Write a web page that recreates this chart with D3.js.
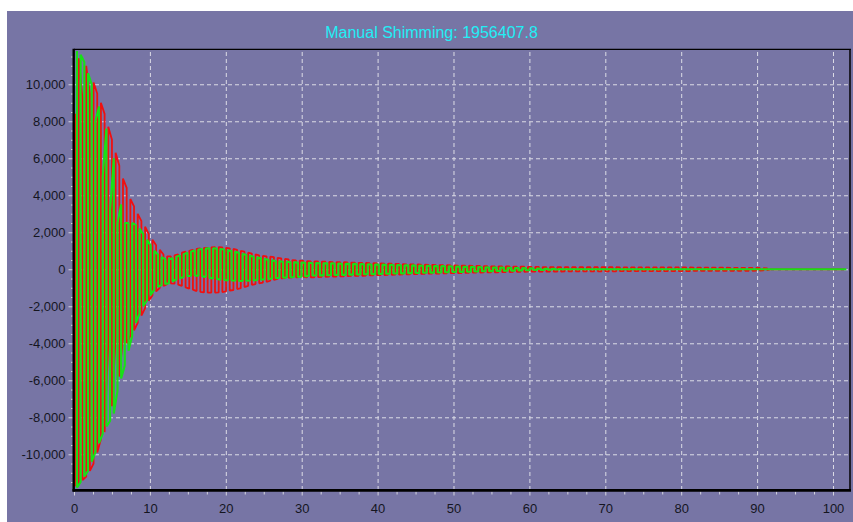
<!DOCTYPE html>
<html><head><meta charset="utf-8">
<script src="https://cdn.jsdelivr.net/npm/d3@7"></script>
<style>
html,body{margin:0;padding:0;background:#fff;}
svg{display:block;}
</style></head><body>
<svg id="c" width="853" height="522"></svg>
<script>
// ---------------- data ----------------
const chartTitle = "Manual Shimming: 1956407.8";
const xTickValues = [0,10,20,30,40,50,60,70,80,90,100];
const xMinorStep = 2.5;
const yTickValues = [-10000,-8000,-6000,-4000,-2000,0,2000,4000,6000,8000,10000];
const yMinorStep = 500;
const xDomain = [0, 102.24];
const yDomain = [-11930, 11890];
const sampleStep = 0.485;          // time between successive oscillation strokes
const realStart = 0.15, imagStart = 0.39;
const valueUnit = 100;             // arrays below are in hundreds

// stroke extremes, first 63 strokes (t = 0 .. 30)
const realTop = [84,114,92,110,95,101,95,90,84,77, 70,63,56,49,44,38,34,30,26,23,
  19,16,13,10.5,8,7,7,7.5,8,9, 9.5,10,10.5,11,11.3,11.5,11.6,11.8,12,12,
  11.8,11.6,11.3,11,10.5,10,9.5,9,8.5,8, 7.5,7.2,7,6.8,6.6,6.2,5.9,5.6,5.3,5, 4.8,4.6,4.5];
const realBottom = [-117,-116,-114,-112,-109,-105,-99,-92,-88,-40, -74,-37,-58,-37,-40,-36,-33,-29,-25,-21,
  -17,-14,-12,-10,-9,-8,-7.6,-7.8,-8.3,-9, -9.8,-10.5,-11,-11.8,-12.2,-12.5,-12.6,-12.6,-12.6,-12.5,
  -12.3,-12,-11.6,-11.2,-10.7,-10.2,-9.6,-9,-8.4,-8, -7.6,-7.2,-6.8,-6.2,-5.8,-5.2,-4.9,-4.8,-4.6,-4.4, -4.3,-4.2,-4.1];
const imagTop = [118,116,112,106,100,80,88,50,76,32, 60,25,35,25,25,25,24,22,19,16,
  13,10,8,6.5,5.5,5.5,6,6.8,7.5,8.2, 9,9.6,10.2,10.7,11,11.2,11.3,11.3,11.2,11,
  10.7,10.3,9.9,9.4,8.9,8.3,7.8,7.3,6.8,6.3, 5.9,5.5,5.1,4.8,4.5,4.3,4.1,4,3.9,3.8, 3.7,3.6,3.5];
const imagBottom = [-118,-115,-112,-109,-104,-99,-94,-89,-85,-82, -78,-66,-59,-52,-44,-36,-29,-24,-20,-17,
  -14,-11,-9.5,-8.5,-8,-7.5,-6.5,-5.5,-4.8,-4.2, -3.8,-3.5,-3.4,-3.5,-3.8,-4.2,-4.6,-5,-5.3,-5.6,
  -5.8,-6,-6.1,-6.2,-6.3,-6.3,-6.2,-6.1,-6,-5.8, -5.6,-5.4,-5.2,-5,-4.8,-4.6,-4.5,-4.4,-4.3,-4.2, -4.1,-4,-3.9];

// symmetric half-amplitudes of the remaining strokes (t = 30 .. 102)
const realTail = [4.4,4.3,4.3,4.2,4.1,4.1,4.0,3.9,3.9,3.8, 3.8,3.7,3.6,3.6,3.5,3.5,3.4,3.3,3.3,3.2,
  3.2,3.1,3.0,3.0,2.9,2.9,2.8,2.7,2.7,2.6, 2.6,2.5,2.5,2.4,2.4,2.3,2.3,2.2,2.2,2.1,
  2.1,2.0,2.0,1.9,1.9,1.8,1.8,1.8,1.7,1.7, 1.6,1.6,1.6,1.5,1.5,1.5,1.4,1.4,1.4,1.4,
  1.3,1.3,1.3,1.3,1.2,1.2,1.2,1.2,1.2,1.2, 1.1,1.1,1.1,1.1,1.1,1.1,1.1,1.1,1.1,1.1,
  1.1,1.1,1.1,1.1,1.1,1.0,1.0,1.0,1.0,1.0, 1.0,1.0,1.0,1.0,1.0,1.0,1.0,1.0,1.0,1.0,
  1.0,1.0,1.0,1.0,1.0,0.9,0.9,0.9,0.9,0.9, 0.9,0.9,0.9,0.9,0.9,0.8,0.8,0.8,0.8,0.8,
  0.8,0.8,0.7,0.7,0.6,0.5,0,0,0,0, 0,0,0,0,0,0,0,0,0,0, 0,0,0,0,0,0,0];
const imagTail = [3.5,3.4,3.4,3.3,3.3,3.2,3.2,3.1,3.1,3.0, 3.0,2.9,2.9,2.8,2.8,2.7,2.7,2.6,2.6,2.5,
  2.5,2.4,2.4,2.3,2.3,2.2,2.2,2.1,2.1,2.0, 2.0,1.9,1.9,1.8,1.8,1.7,1.7,1.6,1.6,1.5,
  1.5,1.4,1.4,1.3,1.3,1.2,1.2,1.1,1.1,1.0, 1.0,0.9,0.9,0.8,0.8,0.7,0.7,0.6,0.6,0.5,
  0.5,0.4,0.4,0.3,0.3,0.2,0.2,0.1,0.1,0, 0,0,0,0,0,0,0,0,0,0,
  0,0,0,0,0,0,0,0,0,0, 0,0,0,0,0,0,0,0,0,0, 0,0,0,0,0,0,0,0,0,0,
  0,0,0,0,0,0,0,0,0,0, 0,0,0,0,0,0,0,0,0,0, 0,0,0,0,0,0,0,0,0,0,
  0,0,0,0,0,0,0];

// ---------------- layout ----------------
const W = 853, H = 522;
const plot = {left: 74, right: 850, top: 49.3, bottom: 490};
const svg = d3.select("#c");

svg.append("rect").attr("x",7).attr("y",11).attr("width",W-7).attr("height",H-11).attr("fill","#7775a5");

const x = d3.scaleLinear().domain(xDomain).range([plot.left, plot.right]);
const y = d3.scaleLinear().domain(yDomain).range([plot.bottom, plot.top]);

const fmt = d3.formatLocale({decimal:".", thousands:",", grouping:[3], currency:["",""], minus:"-"}).format(",");

// grid
const gridColor = "#dcdce6";
const gx = svg.append("g").attr("transform",`translate(0,${plot.bottom})`)
  .call(d3.axisBottom(x).tickValues(xTickValues.filter(v=>v>0)).tickSize(-(plot.bottom-plot.top)).tickFormat(""));
gx.select(".domain").remove();
gx.selectAll("line").attr("stroke",gridColor).attr("stroke-width",1).attr("stroke-dasharray","4,3");
const gy = svg.append("g").attr("transform",`translate(${plot.left},0)`)
  .call(d3.axisLeft(y).tickValues(yTickValues).tickSize(-(plot.right-plot.left)).tickFormat(""));
gy.select(".domain").remove();
gy.selectAll("line").attr("stroke",gridColor).attr("stroke-width",1).attr("stroke-dasharray","4,3");

// series
function buildSeries(start, top, bottom, tail){
  const out = [];
  top.forEach((v,i)=>out.push({t:start+i*sampleStep, hi:v*valueUnit, lo:bottom[i]*valueUnit}));
  tail.forEach((a,j)=>{const i=top.length+j; out.push({t:start+i*sampleStep, hi:a*valueUnit, lo:-a*valueUnit});});
  return out;
}
function meander(arr){
  const pts=[];
  arr.forEach((d,i)=>{
    if(i%2===0){pts.push([d.t,d.hi]);pts.push([d.t,d.lo]);}
    else {pts.push([d.t,d.lo]);pts.push([d.t,d.hi]);}
  });
  return pts;
}
const realSeries = buildSeries(realStart, realTop, realBottom, realTail);
const imagSeries = buildSeries(imagStart, imagTop, imagBottom, imagTail);

svg.append("clipPath").attr("id","clip").append("rect")
  .attr("x",plot.left).attr("y",plot.top).attr("width",plot.right-plot.left).attr("height",plot.bottom-plot.top);
const line = d3.line().x(p=>x(p[0])).y(p=>y(p[1]));
const g = svg.append("g").attr("clip-path","url(#clip)");
g.append("path").attr("d",line(meander(realSeries))).attr("fill","none")
  .attr("stroke","#f01010").attr("stroke-width",1.8).attr("stroke-linejoin","bevel");
g.append("path").attr("d",line(meander(imagSeries))).attr("fill","none")
  .attr("stroke","#18e018").attr("stroke-width",2.1).attr("stroke-linejoin","bevel");

// frame
svg.append("line").attr("x1",plot.left).attr("x2",plot.right+1).attr("y1",plot.top).attr("y2",plot.top)
  .attr("stroke","#000").attr("stroke-width",1.2);
svg.append("line").attr("x1",plot.right).attr("x2",plot.right).attr("y1",plot.top).attr("y2",plot.bottom)
  .attr("stroke","#000").attr("stroke-width",1.5);

// minor ticks
const tickColor = "#d4d4de";
const yMinor = d3.range(-11500, 11890, yMinorStep).filter(v=>!yTickValues.includes(v));
const my = svg.append("g").attr("transform",`translate(${plot.left-0.5},0)`)
  .call(d3.axisLeft(y).tickValues(yMinor).tickSize(2.5).tickFormat(""));
my.select(".domain").remove(); my.selectAll("line").attr("stroke",tickColor);
const xMinor = d3.range(0, 102.24, xMinorStep).filter(v=>!xTickValues.includes(v));
const mx = svg.append("g").attr("transform",`translate(0,${plot.bottom+1.5})`)
  .call(d3.axisBottom(x).tickValues(xMinor).tickSize(3).tickFormat(""));
mx.select(".domain").remove(); mx.selectAll("line").attr("stroke",tickColor);

// major axes
const ay = svg.append("g").attr("transform",`translate(${plot.left-0.5},0)`)
  .call(d3.axisLeft(y).tickValues(yTickValues).tickSize(5).tickPadding(3).tickFormat(fmt));
ay.select(".domain").remove();
ay.selectAll("line").attr("stroke",tickColor);
ay.selectAll("text").attr("fill","#15151f").style("font-family","'Liberation Sans', Arial, sans-serif").style("font-size","13px");
const ax = svg.append("g").attr("transform",`translate(0,${plot.bottom+1.5})`)
  .call(d3.axisBottom(x).tickValues(xTickValues).tickSize(4).tickPadding(8).tickFormat(d3.format("d")));
ax.select(".domain").remove();
ax.selectAll("line").attr("stroke",tickColor);
ax.selectAll("text").attr("fill","#15151f").style("font-family","'Liberation Sans', Arial, sans-serif").style("font-size","13px");

// axis lines
svg.append("line").attr("x1",plot.left-0.3).attr("x2",plot.left-0.3).attr("y1",plot.top-0.5).attr("y2",plot.bottom+1.5)
  .attr("stroke","#000").attr("stroke-width",2.4);
svg.append("line").attr("x1",plot.left-1.5).attr("x2",plot.right+1).attr("y1",plot.bottom+0.4).attr("y2",plot.bottom+0.4)
  .attr("stroke","#000").attr("stroke-width",2.8);

// title
svg.append("text").attr("x",431.5).attr("y",37.5).attr("text-anchor","middle")
  .style("font-family","'Liberation Sans', Arial, sans-serif").style("font-size","16px")
  .attr("fill","#22eef5").text(chartTitle);
</script>
</body></html>
